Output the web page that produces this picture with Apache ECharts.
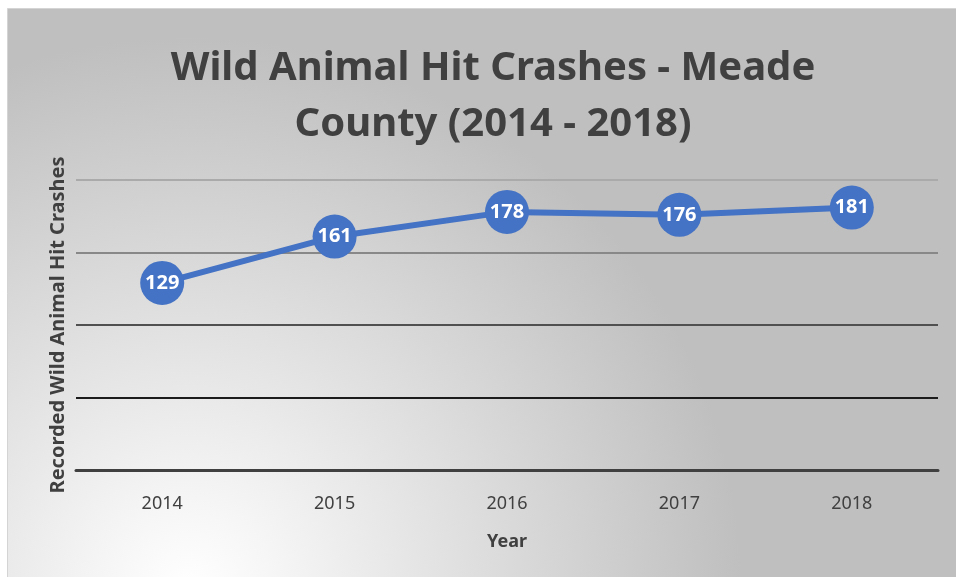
<!DOCTYPE html>
<html>
<head>
<meta charset="utf-8">
<title>Wild Animal Hit Crashes - Meade County</title>
<script src="https://cdn.jsdelivr.net/npm/echarts@6/dist/echarts.min.js"></script>
<style>
  html, body { margin: 0; padding: 0; background: #ffffff; }
  #chart { width: 956px; height: 577px; }
</style>
</head>
<body>
<div id="chart"></div>
<script>
// data
const years = ['2014', '2015', '2016', '2017', '2018'];
const crashes = [129, 161, 178, 176, 181];
const gridColors = ['#404040', '#1c1c1c', '#505050', '#888888', '#aaaaaa'];

const myChart = echarts.init(document.getElementById('chart'));

const option = {
  animation: false,
  textStyle: { fontFamily: 'Noto Sans' },
  graphic: [
    {
      type: 'rect',
      z: -10,
      silent: true,
      shape: { x: 7.5, y: 8.5, width: 960, height: 580 },
      style: {
        fill: new echarts.graphic.RadialGradient(0.19, 1, 0.95, [
          { offset: 0, color: '#ffffff' },
          { offset: 0.15, color: '#f6f6f6' },
          { offset: 1, color: '#bfbfbf' }
        ]),
        stroke: '#d4d4d4',
        lineWidth: 1
      }
    }
  ],
  title: {
    text: 'Wild Animal Hit Crashes - Meade\nCounty (2014 - 2018)',
    left: 488,
    textAlign: 'center',
    top: 36,
    textStyle: {
      fontFamily: 'Noto Sans',
      fontSize: 40,
      fontWeight: 'bold',
      color: '#404040',
      lineHeight: 56
    }
  },
  grid: {
    left: 76,
    right: 18,
    top: 180,
    bottom: 107
  },
  xAxis: {
    type: 'category',
    data: years,
    boundaryGap: true,
    name: 'Year',
    nameLocation: 'middle',
    nameGap: 63,
    nameTextStyle: { fontSize: 18, fontWeight: 'bold', color: '#404040' },
    axisLine: { show: true, lineStyle: { color: '#404040', width: 3 } },
    axisTick: { show: false },
    axisLabel: { fontSize: 18, color: '#404040', margin: 25 }
  },
  yAxis: {
    type: 'value',
    min: 0,
    max: 200,
    interval: 50,
    name: 'Recorded Wild Animal Hit Crashes',
    nameLocation: 'middle',
    nameGap: 8,
    nameTextStyle: { fontSize: 20, fontWeight: 'bold', color: '#404040' },
    axisLine: { show: false },
    axisTick: { show: false },
    axisLabel: { show: false },
    splitLine: { show: true, lineStyle: { color: gridColors, width: 2 } }
  },
  series: [
    {
      name: 'Crashes',
      type: 'line',
      data: crashes,
      symbol: 'circle',
      symbolSize: 44,
      lineStyle: { color: '#4472C4', width: 6 },
      itemStyle: { color: '#4472C4' },
      label: {
        show: true,
        position: 'inside',
        color: '#ffffff',
        fontSize: 20,
        fontWeight: 'bold'
      }
    }
  ]
};

myChart.setOption(option);
</script>
</body>
</html>
